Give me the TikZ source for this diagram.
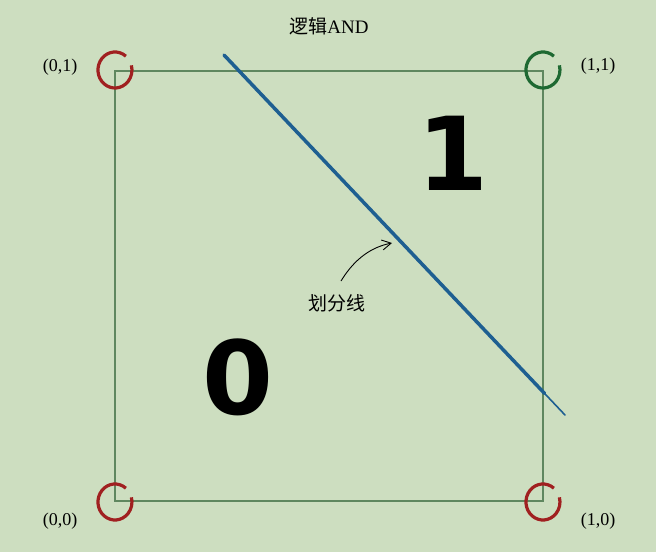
\documentclass[tikz,border=0pt]{standalone}
\usepackage{fontspec}
\setmainfont{Liberation Serif}
\newfontfamily\cjk{Noto Sans CJK SC}
\newfontfamily\bigsans{DejaVu Sans}
\usetikzlibrary{arrows.meta,calc}
\definecolor{bgc}{RGB}{205,222,192}
\definecolor{boxc}{RGB}{95,135,95}
\definecolor{redc}{RGB}{160,32,32}
\definecolor{grnc}{RGB}{30,105,50}
\definecolor{bluec}{RGB}{30,95,145}
\begin{document}
\begin{tikzpicture}[x=1pt,y=-1pt,
  ring/.style={line width=3.2pt},
  coord/.style={font=\fontsize{18}{18}\selectfont, inner sep=0pt},
  digit/.style={font=\bigsans\bfseries\fontsize{102}{102}\selectfont, inner sep=0pt}]
\fill[bgc] (0,0) rectangle (656,552);
\useasboundingbox (0,0) rectangle (656,552);
\coordinate (c00) at (115,501);
\coordinate (c10) at (543,501);
\coordinate (c01) at (115,71);
\coordinate (c11) at (543,71);
\draw[boxc, line width=1.2pt] (c00) -- (c10) -- (c11) -- (c01) -- cycle;
\draw[ring, redc] (c01) ++(10.9,-14.8) arc[start angle=50, end angle=375, x radius=17pt, y radius=18pt];
\draw[ring, redc] (c00) ++(10.9,-12.8) arc[start angle=50, end angle=375, x radius=17pt, y radius=18pt];
\draw[ring, redc] (c10) ++(10.9,-12.8) arc[start angle=50, end angle=375, x radius=17pt, y radius=18pt];
\draw[ring, grnc] (c11) ++(10.9,-14.8) arc[start angle=50, end angle=375, x radius=17pt, y radius=18pt];
\node[coord] (l01) at (60,67) {(0,1)};
\node[coord] (l11) at (598,66) {(1,1)};
\node[coord] (l00) at (60,521) {(0,0)};
\node[coord] (l10) at (598,521) {(1,0)};
\node[font=\fontsize{19}{19}\selectfont, inner sep=0pt] (title) at (329,26) {{\cjk 逻辑}AND};
\coordinate (ls) at (224,55);
\coordinate (le) at (565,415);
\draw[bluec, line width=3.5pt, line cap=round] (ls) -- ($(ls)!0.94!(le)$);
\draw[bluec, line width=1.6pt, line cap=round] ($(ls)!0.9!(le)$) -- (le);
\node[digit] (one) at (453,153) {1};
\node[digit] (zero) at (238,377) {0};
\node[font=\cjk\fontsize{19}{19}\selectfont, inner sep=0pt] (lbl) at (337,303) {划分线};
\coordinate (tip) at (392,243);
\draw[line width=0.9pt, -{Straight Barb[length=9pt,width=10pt]}] (341,281) .. controls (355,258) and (372,247) .. (tip);
\end{tikzpicture}
\end{document}
